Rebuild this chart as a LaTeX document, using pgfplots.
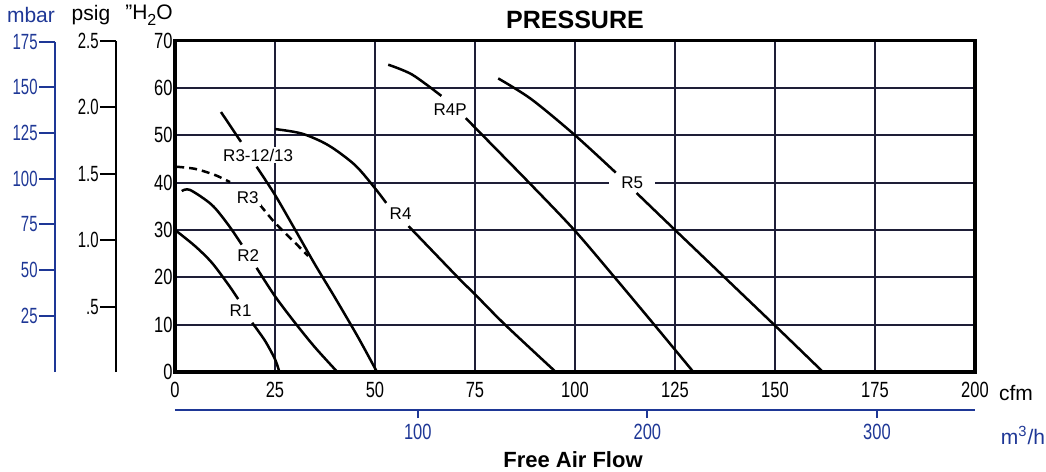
\documentclass[border=0pt]{standalone}
\usepackage{fontspec}
\setmainfont{Liberation Sans}
\newfontfamily\narrow{Liberation Sans}[FakeStretch=0.75]
\newfontfamily\sidenarrow{Liberation Sans}[FakeStretch=0.68]
\usepackage{pgfplots}
\pgfplotsset{compat=1.18}

\definecolor{gridc}{RGB}{30,30,55}
\definecolor{scaleblue}{RGB}{30,55,150}
\newcommand{\tickfont}{\narrow\fontsize{11}{12}\selectfont}
\newcommand{\sidefont}{\sidenarrow\fontsize{11}{12}\selectfont}
\newcommand{\curvefont}{\fontsize{8.5}{10}\selectfont}

\pgfplotsset{
  curve/.style={black, line width=1.25pt, smooth, mark=none},
}
\tikzset{
  clabel/.style={fill=white, inner sep=1pt, font=\curvefont},
}

\begin{document}
\begin{tikzpicture}
\path[use as bounding box] (-87.5pt,-50pt) rectangle (435.5pt,186pt);

% mbar scale
\begin{axis}[
  at={(-60pt,0pt)}, anchor=south west,
  scale only axis, width=5pt, height=165.04pt,
  xmin=0, xmax=1, ymin=0, ymax=69.7,
  axis y line*=left, hide x axis,
  ytick={11.9,21.5,31.2,40.8,50.5,60.1,69.7},
  yticklabels={25,50,75,100,125,150,175},
  tick align=outside, major tick length=8pt,
  axis line style={scaleblue, line width=1pt},
  major tick style={scaleblue, line width=1pt},
  yticklabel style={font=\sidefont, text=scaleblue, inner sep=0.5pt},
]
\addplot[draw=none] coordinates {(0,0)};
\end{axis}

% psig scale
\begin{axis}[
  at={(-29.5pt,0pt)}, anchor=south west,
  scale only axis, width=5pt, height=165.75pt,
  xmin=0, xmax=1, ymin=0, ymax=70,
  axis y line*=left, hide x axis,
  ytick={13.8,27.8,41.9,55.9,70},
  yticklabels={.5,1.0,1.5,2.0,2.5},
  tick align=outside, major tick length=8pt,
  axis line style={black, line width=1pt},
  major tick style={black, line width=1pt},
  yticklabel style={font=\sidefont, inner sep=0.5pt},
]
\addplot[draw=none] coordinates {(0,0)};
\end{axis}

% m3/h scale
\begin{axis}[
  at={(0pt,-19pt)}, anchor=south west,
  scale only axis, width=400pt, height=5pt,
  xmin=0, xmax=200, ymin=0, ymax=1,
  axis x line*=bottom, hide y axis,
  xtick={60.7,118.1,175.5},
  xticklabels={100,200,300},
  tick align=outside, major tick length=4pt,
  axis line style={scaleblue, line width=1pt},
  major tick style={scaleblue, line width=1pt},
  xticklabel style={font=\tickfont, text=scaleblue, inner sep=0pt, yshift=-3pt},
]
\addplot[draw=none] coordinates {(0,0)};
\end{axis}

% main chart
\begin{axis}[
  at={(0pt,0pt)}, anchor=south west,
  scale only axis, width=400pt, height=165.75pt,
  xmin=0, xmax=200, ymin=0, ymax=70,
  xtick={0,25,...,200}, ytick={0,10,...,70},
  grid=major, grid style={gridc, line width=1pt},
  major tick length=0pt,
  axis line style={black, line width=1.75pt},
  ticklabel style={font=\tickfont},
  /pgf/number format/assume math mode=true,
  xticklabel style={inner sep=0pt, yshift=-5pt},
  yticklabel style={inner sep=1pt},
  clip=false,
]
% R1
\addplot[curve] coordinates {(0,30)(5,26.6)(9.2,23.1)(13.3,18.5)(15.8,15.4)};
\addplot[curve] coordinates {(19.3,10.4)(22.5,6.6)(25,2.7)(26.1,0)};
% R2
\addplot[curve] coordinates {(1.7,38.2)(3.75,38.45)(9.2,35.3)(13.3,31.1)(16.7,26.9)};
\addplot[curve] coordinates {(20.4,22.0)(25,16.0)(30,10.4)(35,5.2)(40.6,0)};
% R3 (dashed)
\addplot[curve, dash pattern=on 4pt off 2.5pt] coordinates {(0.3,43.35)(5,42.9)(10,41.6)(13.75,40.1)};
\addplot[curve, dash pattern=on 4pt off 2.5pt] coordinates {(21.25,35.3)(25,31.5)(30,27.3)(33.3,24.5)};
% R3-12/13
\addplot[curve] coordinates {(11.5,54.9)(16.5,48.6)};
\addplot[curve] coordinates {(20.4,43.35)(25,37.4)(30,30.1)(35,22.7)(40,15.7)(45.8,7.3)(50.5,0)};
% R4
\addplot[curve] coordinates {(25,51.3)(31.7,50.35)(38.3,47.9)(45,43.7)(50,38.8)(52.8,35.7)};
\addplot[curve] coordinates {(58.4,30.8)(70.7,20)(75,16.4)(82.5,10)(95.2,0)};
% R4P
\addplot[curve] coordinates {(53.3,64.9)(59.3,62.8)(66.6,58.3)};
\addplot[curve] coordinates {(72.7,53.6)(88.5,40)(99.8,30)(109.9,20)(119.8,10)(129.6,0)};
% R5
\addplot[curve] coordinates {(80.8,62)(89.1,57.6)(100,50)(110.2,42.1)};
\addplot[curve] coordinates {(115.4,37.8)(125,30)(150,9.8)(162,0)};

\node[clabel] at (axis cs:16.4,12.9) {R1};
\node[clabel] at (axis cs:18.3,24.5) {R2};
\node[clabel] at (axis cs:18.2,36.8) {R3};
\node[clabel] at (axis cs:20.8,45.8) {R3-12/13};
\node[clabel] at (axis cs:56.4,33.4) {R4};
\node[clabel] at (axis cs:68.8,55.5) {R4P};
\node[clabel, inner xsep=6pt] at (axis cs:114.3,40) {R5};
\end{axis}

% titles and unit labels
\node[font=\bfseries\fontsize{12.5}{14}\selectfont] at (200pt,176pt) {PRESSURE};
\node[font=\bfseries\fontsize{11}{13}\selectfont] at (199pt,-44pt) {Free Air Flow};
\node[font=\fontsize{10.5}{12}\selectfont, text=scaleblue] at (-72pt,178.5pt) {mbar};
\node[font=\fontsize{10.5}{12}\selectfont] at (-42pt,178.5pt) {psig};
\node[font=\fontsize{10.5}{12}\selectfont] at (-13pt,178.5pt) {"H\raisebox{-0.5ex}{\fontsize{8}{9}\selectfont 2}O};
\node[font=\fontsize{10.5}{12}\selectfont] at (420.5pt,-10.5pt) {cfm};
\node[font=\fontsize{10.5}{12}\selectfont, text=scaleblue] at (424pt,-31.5pt) {m\textsuperscript{3}/h};
\end{tikzpicture}
\end{document}
